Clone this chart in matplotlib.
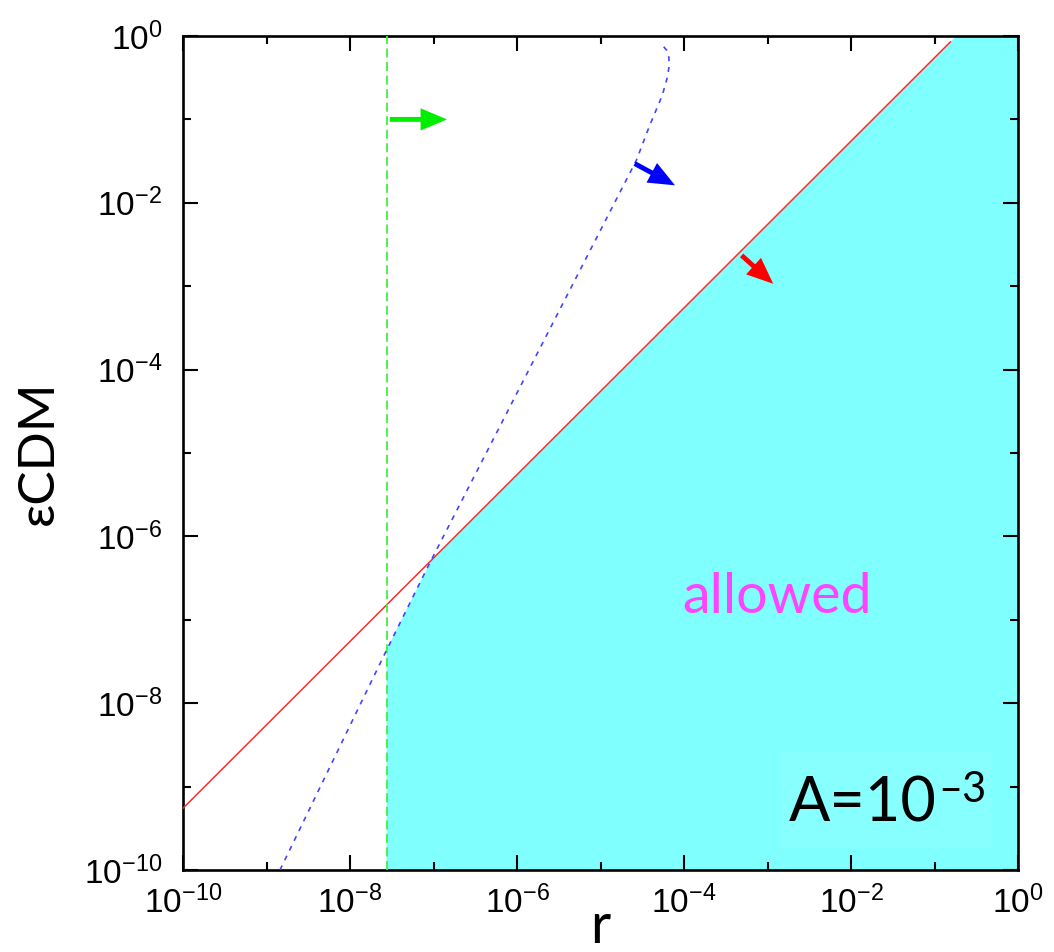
import matplotlib
matplotlib.use('Agg')
import matplotlib.pyplot as plt
from matplotlib.patches import Rectangle
from matplotlib.ticker import FixedLocator, NullFormatter

plt.rcParams['font.family'] = ['Liberation Sans', 'DejaVu Sans']
plt.rcParams['mathtext.fontset'] = 'custom'
plt.rcParams['mathtext.rm'] = 'Liberation Sans'
plt.rcParams['mathtext.it'] = 'Liberation Sans:italic'
plt.rcParams['mathtext.bf'] = 'Liberation Sans:bold'

# valores
red_r = [1e-10, 1.55e-1]
red_eps = [5.5e-10, 8.5e-1]

green_r = [2.75e-8, 2.75e-8]
green_eps = [1e-10, 1e0]

blue_r = [1.45e-9, 2.63e-8, 8.5e-8, 2.69e-5, 3.89e-5, 5.5e-5, 6.3e-5, 6.6e-5, 6.6e-5, 6.2e-5, 5.5e-5]
blue_eps = [1e-10, 3.98e-8, 4.27e-7, 3.24e-2, 8.5e-2, 0.195, 0.316, 0.417, 0.55, 0.676, 0.776]

# contorno da regiao permitida
allowed_r = [2.75e-8, 2.75e-8, 9.3e-8, 1.82e-1, 1e0, 1e0]
allowed_eps = [1e-10, 4.4e-8, 5.1e-7, 1e0, 1e0, 1e-10]

# setas (inicio, fim, cor)
arrow_start = [(3.0e-8, 1e-1), (2.57e-5, 2.95e-2), (4.9e-4, 2.34e-3)]
arrow_end = [(1.45e-7, 1e-1), (7.8e-5, 1.62e-2), (1.17e-3, 1.07e-3)]
arrow_colors = ['#00ee00', '#0000ff', '#ff0000']

major_ticks = [1e-10, 1e-8, 1e-6, 1e-4, 1e-2, 1e0]
minor_ticks = [1e-9, 1e-7, 1e-5, 1e-3, 1e-1]

label_font = ['Lato', 'DejaVu Sans']

fig = plt.figure(figsize=(10.54, 9.52), dpi=100)
ax = fig.add_axes([183 / 1054, 1 - 870 / 952, 835 / 1054, 834 / 952])

ax.fill(allowed_r, allowed_eps, color='#80ffff', lw=0, zorder=1)
ax.plot(red_r, red_eps, color='#ff2a2a', lw=1.1, zorder=3)
ax.plot(green_r, green_eps, color='#44ee44', lw=1.3, dashes=(5, 2.5), zorder=3)
ax.plot(blue_r, blue_eps, color='#4444ff', lw=1.2, dashes=(3, 3.5), zorder=3)

for (x0, y0), (x1, y1), c in zip(arrow_start, arrow_end, arrow_colors):
    ax.annotate('', xy=(x1, y1), xytext=(x0, y0),
                arrowprops=dict(facecolor=c, edgecolor='none', width=3.5,
                                headwidth=16, headlength=19, shrink=0), zorder=4)

ax.set_xscale('log')
ax.set_yscale('log')
ax.set_xlim(1e-10, 1e0)
ax.set_ylim(1e-10, 1e0)

for axis in [ax.xaxis, ax.yaxis]:
    axis.set_major_locator(FixedLocator(major_ticks))
    axis.set_minor_locator(FixedLocator(minor_ticks))
    axis.set_minor_formatter(NullFormatter())

ax.tick_params(which='both', direction='in', top=True, right=True, width=1.5)
ax.tick_params(which='major', length=11)
ax.tick_params(which='minor', length=6)
ax.tick_params(axis='y', labelsize=24, pad=15)
ax.tick_params(axis='x', labelsize=24, pad=11)
for s in ax.spines.values():
    s.set_linewidth(1.9)

ax.set_xlabel('r', fontsize=40, family=label_font)
ax.xaxis.set_label_coords(0.5, -0.038)
ax.set_ylabel('\u03b5CDM', fontsize=37, family=label_font)
ax.yaxis.set_label_coords(-0.145, 0.5)

ax.text(0.711, 0.327, 'allowed', transform=ax.transAxes, color='#ff44ff',
        fontsize=40, family=label_font, ha='center', va='center', zorder=5)

# caixa com o valor de A
ax.add_patch(Rectangle((0.716, 0.026), 0.253, 0.115, transform=ax.transAxes,
                       facecolor='#88ffff', edgecolor='none', zorder=4))
t = ax.text(0.726, 0.0576, 'A=10', transform=ax.transAxes, color='black',
            fontsize=44, family=label_font, ha='left', va='baseline', zorder=5)
ax.annotate('\u20133', xy=(1.0, 0.0815), xycoords=(t, 'axes fraction'),
            xytext=(1, 0), textcoords='offset points', color='black',
            fontsize=30, family=label_font, ha='left', va='baseline', zorder=6)

fig.savefig('out.png', dpi=100)
